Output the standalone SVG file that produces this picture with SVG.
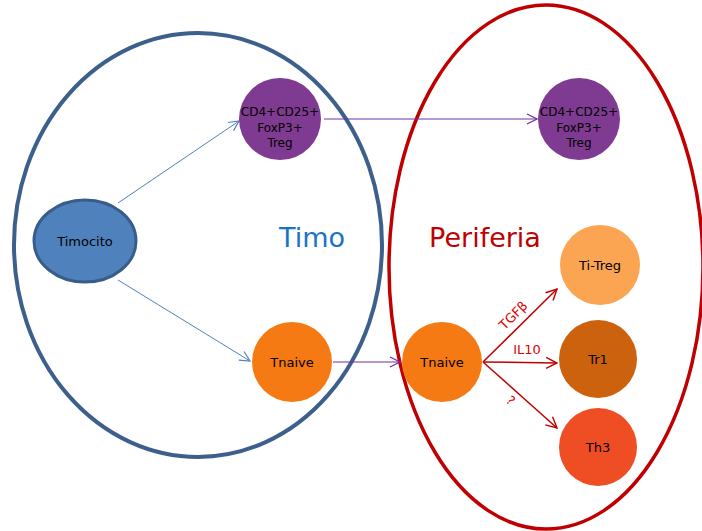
<svg xmlns="http://www.w3.org/2000/svg" width="702" height="531" viewBox="0 0 702 531">
<defs>
<marker id="aBlue" viewBox="0 0 12 12" refX="11" refY="6" markerWidth="12" markerHeight="12" markerUnits="userSpaceOnUse" orient="auto"><path d="M1,1 L11,6 L1,11" fill="none" stroke="#4F81BD" stroke-width="1.2"/></marker>
<marker id="aPurple" viewBox="0 0 12 12" refX="11" refY="6" markerWidth="12" markerHeight="12" markerUnits="userSpaceOnUse" orient="auto"><path d="M1,1 L11,6 L1,11" fill="none" stroke="#7030A0" stroke-width="1.2"/></marker>
<marker id="aRed" viewBox="0 0 12 12" refX="11" refY="6" markerWidth="13" markerHeight="13" markerUnits="userSpaceOnUse" orient="auto"><path d="M1,1 L11,6 L1,11" fill="none" stroke="#C00000" stroke-width="1.3"/></marker>
</defs>
<style>
.t{font-family:"DejaVu Sans",Verdana,sans-serif;font-size:12px;fill:#000;text-anchor:middle}
.s{font-size:13px}
.big{font-family:"DejaVu Sans",Verdana,sans-serif;font-size:27px;text-anchor:middle}
.lbl{font-family:"DejaVu Sans",Verdana,sans-serif;font-size:13px;fill:#E00000;text-anchor:middle}
.blue{stroke:#4F81BD;stroke-width:1;fill:none;marker-end:url(#aBlue)}
.purple{stroke:#7030A0;stroke-width:1.2;fill:none;marker-end:url(#aPurple)}
.red{stroke:#C00000;stroke-width:1.5;fill:none;marker-end:url(#aRed)}
</style>
<rect width="702" height="531" fill="#fff"/>
<g id="timo">
<ellipse cx="198" cy="245" rx="184" ry="212" fill="none" stroke="#3C5F8C" stroke-width="4"/>
<text class="big" x="312" y="247" fill="#1874C5">Timo</text>
</g>
<g id="periferia">
<ellipse cx="546" cy="267" rx="157" ry="262" fill="none" stroke="#C00000" stroke-width="3.5"/>
<text class="big" x="485" y="247" fill="#C00000">Periferia</text>
</g>
<g id="connectors">
<line class="blue" x1="118" y1="203" x2="239" y2="121"/>
<line class="blue" x1="118" y1="280" x2="250" y2="361"/>
<line class="purple" x1="324" y1="119" x2="537" y2="119"/>
<line class="purple" x1="333" y1="362" x2="400" y2="362"/>
<line class="red" x1="483" y1="362" x2="557" y2="289"/>
<line class="red" x1="483" y1="362" x2="557" y2="363"/>
<line class="red" x1="483" y1="362" x2="557" y2="428"/>
<text class="lbl" x="513" y="320" transform="rotate(-45 513 315)">TGFβ</text>
<text class="lbl" x="527" y="354">IL10</text>
<text class="lbl" x="511" y="405" transform="rotate(42 511 400)">?</text>
</g>
<g id="timocito">
<ellipse cx="85" cy="241" rx="51" ry="41" fill="#4F81BD" stroke="#385D8A" stroke-width="3"/>
<text class="t s" x="85" y="246">Timocito</text>
</g>
<g id="treg1">
<circle cx="280" cy="119" r="41" fill="#7F3A91"/>
<text class="t" x="280" y="116">CD4+CD25+</text>
<text class="t" x="280" y="132">FoxP3+</text>
<text class="t" x="280" y="147">Treg</text>
</g>
<g id="treg2">
<circle cx="579" cy="119" r="41" fill="#7F3A91"/>
<text class="t" x="579" y="116">CD4+CD25+</text>
<text class="t" x="579" y="132">FoxP3+</text>
<text class="t" x="579" y="147">Treg</text>
</g>
<g id="tnaive1">
<circle cx="292" cy="362" r="40" fill="#F57A13"/>
<text class="t s" x="292" y="367">Tnaive</text>
</g>
<g id="tnaive2">
<circle cx="442" cy="362" r="40" fill="#F57A13"/>
<text class="t s" x="442" y="367">Tnaive</text>
</g>
<g id="titreg">
<circle cx="600" cy="265" r="40" fill="#FBA553"/>
<text class="t s" x="600" y="270">Ti-Treg</text>
</g>
<g id="tr1">
<circle cx="598" cy="359" r="39" fill="#CC620E"/>
<text class="t s" x="598" y="364">Tr1</text>
</g>
<g id="th3">
<circle cx="598" cy="447" r="39" fill="#EF4D23"/>
<text class="t s" x="598" y="452">Th3</text>
</g>
</svg>
